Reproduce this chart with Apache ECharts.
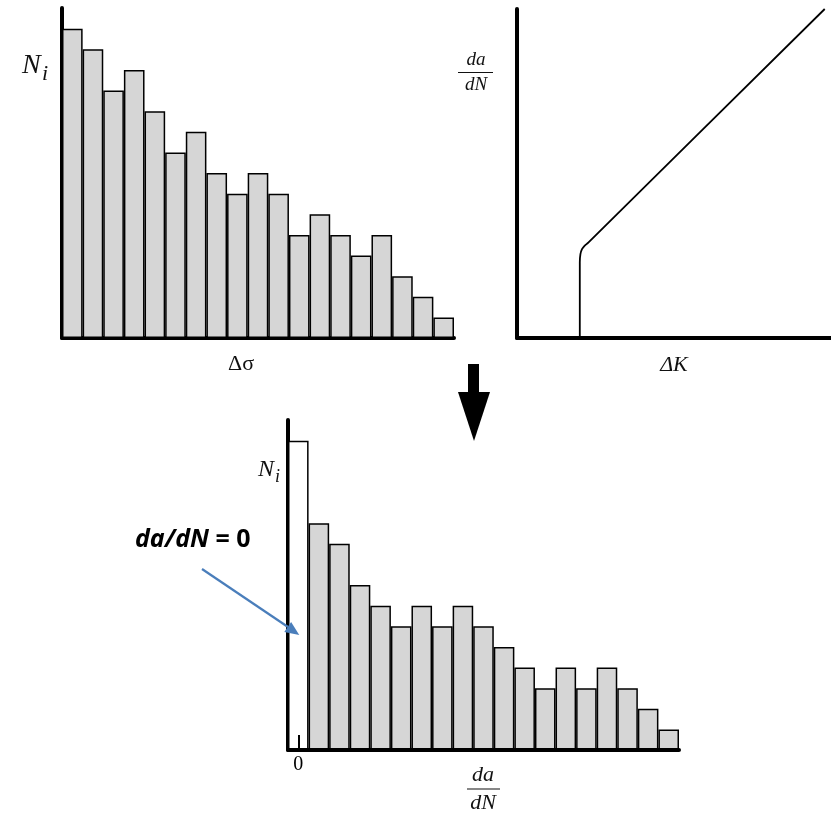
<!DOCTYPE html>
<html>
<head>
<meta charset="utf-8">
<script src="https://cdn.jsdelivr.net/npm/echarts@6/dist/echarts.min.js"></script>
<style>
  html, body { margin: 0; padding: 0; background: #ffffff; }
  #chart { width: 831px; height: 815px; }
</style>
</head>
<body>
<div id="chart"></div>
<script>
// Stress-range histogram: number of cycles N_i in each Δσ bin
const stressBins = ['1', '2', '3', '4', '5', '6', '7', '8', '9', '10', '11', '12', '13', '14', '15', '16', '17', '18', '19'];
const stressCounts = [15, 14, 12, 13, 11, 9, 10, 8, 7, 8, 7, 5, 6, 5, 4, 5, 3, 2, 1];

// Crack growth law: da/dN against ΔK (threshold, then straight rise)
const deltaK = [2, 2, 2.02, 2.07, 2.15, 2.27, 9.8];
const growthRate = [0, 2.3, 2.55, 2.7, 2.8, 2.9, 10.0];

// Resulting growth-rate histogram; the first bin holds da/dN = 0
const rateTickLabels = ['0', '', '', '', '', '', '', '', '', '', '', '', '', '', '', '', '', '', ''];
const rateCounts = [15, 11, 10, 8, 7, 6, 7, 6, 7, 6, 5, 4, 3, 4, 3, 4, 3, 2, 1];

const BAR_GREY = '#d6d6d6';
const AXIS_W = 4;
const SERIF = '"Liberation Serif", "DejaVu Serif", serif';
const SANS = '"Noto Sans", "Liberation Sans", sans-serif';

function plainAxis(extra) {
  return Object.assign({
    axisLine: { show: true, onZero: false, lineStyle: { color: '#000', width: AXIS_W } },
    axisTick: { show: false },
    axisLabel: { show: false },
    splitLine: { show: false }
  }, extra);
}

const rateData = rateCounts.map((v, i) => i === 0
  ? { value: v, itemStyle: { color: '#ffffff' } }
  : v);

const chart = echarts.init(document.getElementById('chart'), null, { renderer: 'canvas' });

chart.setOption({
  backgroundColor: '#ffffff',
  animation: false,
  grid: [
    { left: 62, top: 8, width: 392, height: 330 },
    { left: 517, top: 9, width: 314, height: 329 },
    { left: 288, top: 420, width: 391, height: 330 }
  ],
  xAxis: [
    plainAxis({ type: 'category', gridIndex: 0, data: stressBins, boundaryGap: true }),
    plainAxis({ type: 'value', gridIndex: 1, min: 0, max: 10 }),
    plainAxis({
      type: 'category', gridIndex: 2, data: rateTickLabels, boundaryGap: true, z: 10,
      axisTick: {
        show: true, inside: true, length: 15, alignWithLabel: true,
        interval: (idx) => idx === 0,
        lineStyle: { color: '#000', width: 2 }
      },
      axisLabel: {
        show: true, interval: 0, margin: 5, color: '#000',
        fontFamily: SERIF, fontSize: 20
      }
    })
  ],
  yAxis: [
    plainAxis({ type: 'value', gridIndex: 0, min: 0, max: 16 }),
    plainAxis({ type: 'value', gridIndex: 1, min: 0, max: 10 }),
    plainAxis({ type: 'value', gridIndex: 2, min: 0, max: 16 })
  ],
  series: [
    {
      type: 'bar', xAxisIndex: 0, yAxisIndex: 0,
      data: stressCounts, barWidth: '100%', barCategoryGap: '0%',
      itemStyle: { color: BAR_GREY, borderColor: '#000', borderWidth: 1.5 }
    },
    {
      type: 'line', xAxisIndex: 1, yAxisIndex: 1,
      data: deltaK.map((k, i) => [k, growthRate[i]]),
      showSymbol: false, smooth: 0.3,
      lineStyle: { color: '#000', width: 1.8 }
    },
    {
      type: 'bar', xAxisIndex: 2, yAxisIndex: 2,
      data: rateData, barWidth: '100%', barCategoryGap: '0%',
      itemStyle: { color: BAR_GREY, borderColor: '#000', borderWidth: 1.5 }
    }
  ],
  graphic: {
    elements: [
      // axis titles, top-left panel
      { type: 'text', x: 22, y: 66, style: { text: 'N', font: 'italic 28px ' + SERIF, fill: '#111', verticalAlign: 'middle', textVerticalAlign: 'middle' } },
      { type: 'text', x: 42, y: 74, style: { text: 'i', font: 'italic 22px ' + SERIF, fill: '#111', verticalAlign: 'middle', textVerticalAlign: 'middle' } },
      { type: 'text', x: 241, y: 364, style: { text: 'Δσ', font: '22px ' + SERIF, fill: '#111', textAlign: 'center', verticalAlign: 'middle', textVerticalAlign: 'middle' } },

      // axis titles, top-right panel
      { type: 'text', x: 476, y: 60, style: { text: 'da', font: 'italic 19px ' + SERIF, fill: '#111', textAlign: 'center', verticalAlign: 'middle', textVerticalAlign: 'middle' } },
      { type: 'line', shape: { x1: 458, y1: 72.5, x2: 493, y2: 72.5 }, style: { stroke: '#111', lineWidth: 1.2 } },
      { type: 'text', x: 476, y: 85, style: { text: 'dN', font: 'italic 19px ' + SERIF, fill: '#111', textAlign: 'center', verticalAlign: 'middle', textVerticalAlign: 'middle' } },
      { type: 'text', x: 674, y: 365, style: { text: 'ΔK', font: 'italic 22px ' + SERIF, fill: '#111', textAlign: 'center', verticalAlign: 'middle', textVerticalAlign: 'middle' } },

      // axis titles, bottom panel
      { type: 'text', x: 258, y: 470, style: { text: 'N', font: 'italic 24px ' + SERIF, fill: '#111', verticalAlign: 'middle', textVerticalAlign: 'middle' } },
      { type: 'text', x: 275, y: 477, style: { text: 'i', font: 'italic 18px ' + SERIF, fill: '#111', verticalAlign: 'middle', textVerticalAlign: 'middle' } },
      { type: 'text', x: 483, y: 775.5, style: { text: 'da', font: 'italic 22px ' + SERIF, fill: '#111', textAlign: 'center', verticalAlign: 'middle', textVerticalAlign: 'middle' } },
      { type: 'line', shape: { x1: 467, y1: 789, x2: 500, y2: 789 }, style: { stroke: '#111', lineWidth: 1.2 } },
      { type: 'text', x: 483, y: 803, style: { text: 'dN', font: 'italic 22px ' + SERIF, fill: '#111', textAlign: 'center', verticalAlign: 'middle', textVerticalAlign: 'middle' } },

      // downward arrow between the panels
      { type: 'rect', shape: { x: 468, y: 364, width: 11, height: 32 }, style: { fill: '#000' } },
      { type: 'polygon', shape: { points: [[458, 392], [490, 392], [474, 441]] }, style: { fill: '#000' } },

      // callout for the zero-growth bin
      {
        type: 'text', x: 135, y: 540, z: 100,
        style: {
          text: '{it|da/dN}{n| = 0}',
          fill: '#000', verticalAlign: 'middle', textVerticalAlign: 'middle',
          rich: {
            it: { fontStyle: 'italic', fontWeight: 'bold', fontSize: 25, fontFamily: SANS, color: '#000' },
            n: { fontWeight: 'bold', fontSize: 25, fontFamily: SANS, color: '#000' }
          }
        }
      },
      { type: 'line', z: 100, shape: { x1: 202, y1: 569, x2: 288, y2: 627 }, style: { stroke: '#4a7ebb', lineWidth: 2.2 } },
      { type: 'polygon', z: 100, shape: { points: [[299.3, 635], [284.3, 632.1], [291.1, 622.1]] }, style: { fill: '#4a7ebb' } }
    ]
  }
});
</script>
</body>
</html>
